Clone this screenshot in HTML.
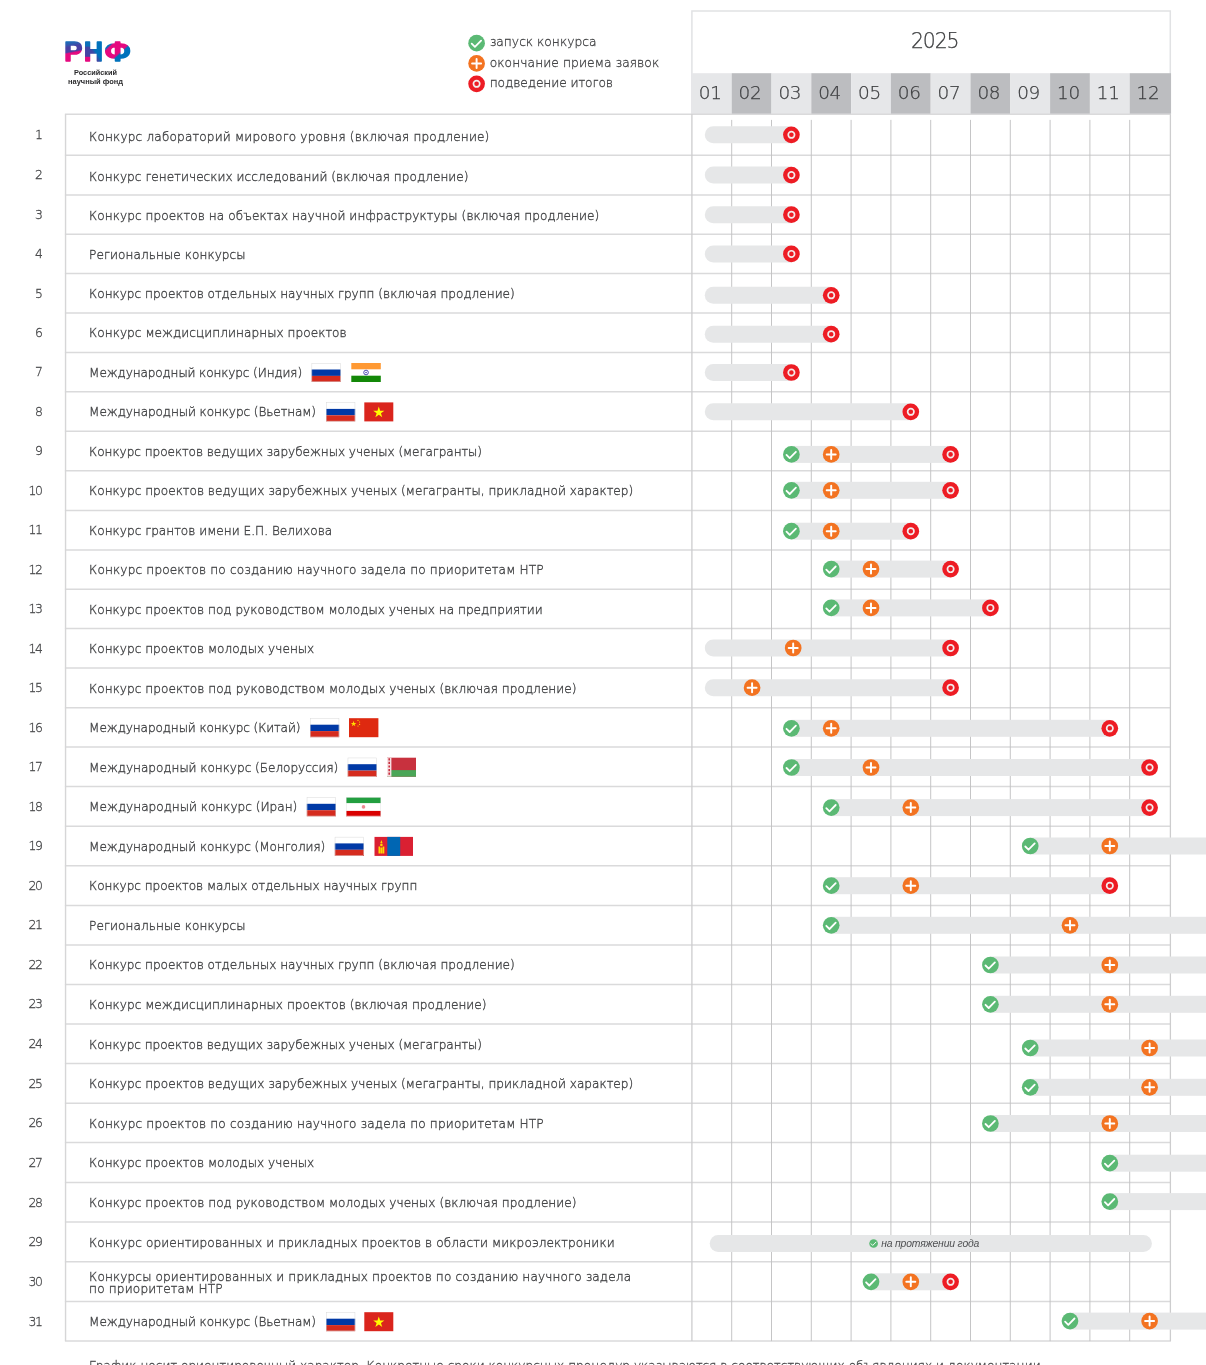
<!DOCTYPE html>
<html lang="ru"><head><meta charset="utf-8"><title>РНФ — график конкурсов 2025</title>
<style>
html,body{margin:0;padding:0;background:#fff;}
body{width:1206px;height:1365px;position:relative;overflow:hidden;font-family:"Liberation Sans",sans-serif;color:#58595b;}
.t{position:absolute;white-space:nowrap;font-family:"DejaVu Sans Light","DejaVu Sans","Liberation Sans",sans-serif;font-weight:200;font-size:12.1px;line-height:14px;height:14px;left:89.1px;color:#454648;-webkit-text-stroke:0.35px #454648;}
.n{position:absolute;white-space:nowrap;font-family:"DejaVu Sans Light","DejaVu Sans","Liberation Sans",sans-serif;font-weight:200;font-size:12.4px;letter-spacing:-1.3px;line-height:14px;height:14px;width:30px;left:11.7px;text-align:right;color:#48494b;-webkit-text-stroke:0.3px #48494b;}
.m{position:absolute;top:73.0px;height:40.6px;font-family:"DejaVu Sans Light","DejaVu Sans","Liberation Sans",sans-serif;font-weight:200;font-size:18.4px;line-height:40.6px;text-align:center;color:#3f4042;-webkit-text-stroke:0.25px #3f4042;letter-spacing:-0.3px;}
.lg{position:absolute;left:489.7px;font-family:"DejaVu Sans Light","DejaVu Sans","Liberation Sans",sans-serif;font-weight:200;font-size:12.25px;line-height:16px;white-space:nowrap;color:#444547;-webkit-text-stroke:0.3px #444547;}
svg{position:absolute;left:0;top:0;}
</style></head><body>

<svg width="1206" height="1365" viewBox="0 0 1206 1365">
<defs>
<g id="ig"><circle r="8.35" fill="#5bb974"/><path d="M-4.9 0.5 L-1.7 3.7 L4.5 -2.6" fill="none" stroke="#fff" stroke-width="1.8" stroke-linecap="round" stroke-linejoin="round"/></g>
<g id="io"><circle r="8.35" fill="#f37321"/><path d="M-4.5 0H4.5M0 -4.5V4.5" fill="none" stroke="#fff" stroke-width="1.95" stroke-linecap="round"/></g>
<g id="ir"><circle r="8.35" fill="#ed1c24"/><circle r="3.15" fill="none" stroke="#f3ecec" stroke-width="1.7"/></g>
<g id="ru"><rect width="29.2" height="19" fill="#fff"/><rect y="6.5" width="29.2" height="6.4" fill="#0039a6"/><rect y="12.9" width="29.2" height="6.1" fill="#d52b1e"/><rect x="0.25" y="0.25" width="28.7" height="18.5" fill="none" stroke="#d9d9d9" stroke-width="0.5"/></g>
<linearGradient id="gP" gradientUnits="userSpaceOnUse" x1="11" y1="11" x2="15" y2="32"><stop offset="0" stop-color="#1374bd"/><stop offset="0.18" stop-color="#2e5cb0"/><stop offset="0.32" stop-color="#4a3fa3"/><stop offset="0.53" stop-color="#4a3fa3"/><stop offset="0.6" stop-color="#e5097f"/><stop offset="1" stop-color="#e5097f"/></linearGradient>
<linearGradient id="gN" gradientUnits="userSpaceOnUse" x1="30" y1="26" x2="46" y2="16"><stop offset="0" stop-color="#4a3fa3"/><stop offset="0.45" stop-color="#3f48a5"/><stop offset="0.62" stop-color="#0072bc"/><stop offset="1" stop-color="#0072bc"/></linearGradient>
<linearGradient id="gF" gradientUnits="userSpaceOnUse" x1="52" y1="10" x2="73" y2="33"><stop offset="0" stop-color="#0072bc"/><stop offset="0.17" stop-color="#0072bc"/><stop offset="0.23" stop-color="#e5097f"/><stop offset="0.56" stop-color="#e5097f"/><stop offset="0.62" stop-color="#0072bc"/><stop offset="1" stop-color="#0072bc"/></linearGradient>
</defs>
<rect x="691.90" y="10.7" width="478.50" height="103.50" fill="#fff" stroke="none"/>
<path d="M691.90 114.20V10.95H1170.30V114.20" fill="none" stroke="#e1e2e4" stroke-width="1.5" stroke-linejoin="miter"/>
<rect x="691.20" y="73.2" width="40.50" height="41.00" fill="#e6e7e9"/>
<rect x="731.70" y="73.2" width="39.80" height="41.00" fill="#bcbdc0"/>
<rect x="771.50" y="73.2" width="39.80" height="41.00" fill="#e6e7e9"/>
<rect x="811.30" y="73.2" width="39.80" height="41.00" fill="#bcbdc0"/>
<rect x="851.10" y="73.2" width="39.80" height="41.00" fill="#e6e7e9"/>
<rect x="890.90" y="73.2" width="39.80" height="41.00" fill="#bcbdc0"/>
<rect x="930.70" y="73.2" width="39.80" height="41.00" fill="#e6e7e9"/>
<rect x="970.50" y="73.2" width="39.80" height="41.00" fill="#bcbdc0"/>
<rect x="1010.30" y="73.2" width="39.80" height="41.00" fill="#e6e7e9"/>
<rect x="1050.10" y="73.2" width="39.80" height="41.00" fill="#bcbdc0"/>
<rect x="1089.90" y="73.2" width="39.80" height="41.00" fill="#e6e7e9"/>
<rect x="1129.70" y="73.2" width="41.35" height="41.00" fill="#bcbdc0"/>
<path d="M64.9 114.20H1171.00M64.9 155.30H1171.00M64.9 194.90H1171.00M64.9 234.30H1171.00M64.9 273.60H1171.00M64.9 313.10H1171.00M64.9 352.40H1171.00M64.9 391.80H1171.00M64.9 431.25H1171.00M64.9 470.80H1171.00M64.9 510.40H1171.00M64.9 549.90H1171.00M64.9 589.30H1171.00M64.9 628.60H1171.00M64.9 668.10H1171.00M64.9 707.65H1171.00M64.9 747.00H1171.00M64.9 786.60H1171.00M64.9 826.20H1171.00M64.9 865.80H1171.00M64.9 905.40H1171.00M64.9 945.00H1171.00M64.9 984.40H1171.00M64.9 1024.00H1171.00M64.9 1063.60H1171.00M64.9 1103.20H1171.00M64.9 1142.60H1171.00M64.9 1182.40H1171.00M64.9 1222.10H1171.00M64.9 1261.70H1171.00M64.9 1301.40H1171.00M64.9 1341.10H1171.00" fill="none" stroke="#dadadb" stroke-width="1.5"/>
<path d="M65.55 114.20V1341.10" fill="none" stroke="#d6d6d7" stroke-width="1.4"/>
<path d="M691.90 114.20V1341.10 M1170.40 114.20V1341.10" fill="none" stroke="#cdcdce" stroke-width="1.3"/>
<path d="M731.70 119.9V1341.10M771.50 119.9V1341.10M811.30 119.9V1341.10M851.10 119.9V1341.10M890.90 119.9V1341.10M930.70 119.9V1341.10M970.50 119.9V1341.10M1010.30 119.9V1341.10M1050.10 119.9V1341.10M1089.90 119.9V1341.10M1129.70 119.9V1341.10" fill="none" stroke="#c2c2c3" stroke-width="0.95"/>
<path d="M713.30 126.30H791.40V143.30H713.30A8.50 8.50 0 0 1 713.30 126.30Z" fill="#e6e7e8"/>
<use href="#ir" x="791.40" y="134.80"/>
<path d="M713.30 166.60H791.40V183.60H713.30A8.50 8.50 0 0 1 713.30 166.60Z" fill="#e6e7e8"/>
<use href="#ir" x="791.40" y="175.10"/>
<path d="M713.30 206.20H791.40V223.20H713.30A8.50 8.50 0 0 1 713.30 206.20Z" fill="#e6e7e8"/>
<use href="#ir" x="791.40" y="214.70"/>
<path d="M713.30 245.40H791.40V262.40H713.30A8.50 8.50 0 0 1 713.30 245.40Z" fill="#e6e7e8"/>
<use href="#ir" x="791.40" y="253.90"/>
<path d="M713.30 286.80H831.20V303.80H713.30A8.50 8.50 0 0 1 713.30 286.80Z" fill="#e6e7e8"/>
<use href="#ir" x="831.20" y="295.30"/>
<path d="M713.30 325.70H831.20V342.70H713.30A8.50 8.50 0 0 1 713.30 325.70Z" fill="#e6e7e8"/>
<use href="#ir" x="831.20" y="334.20"/>
<path d="M713.30 364.00H791.40V381.00H713.30A8.50 8.50 0 0 1 713.30 364.00Z" fill="#e6e7e8"/>
<use href="#ir" x="791.40" y="372.50"/>
<path d="M713.30 403.30H910.80V420.30H713.30A8.50 8.50 0 0 1 713.30 403.30Z" fill="#e6e7e8"/>
<use href="#ir" x="910.80" y="411.80"/>
<rect x="791.40" y="445.90" width="159.20" height="17.00" fill="#e6e7e8"/>
<use href="#ig" x="791.40" y="454.40"/>
<use href="#io" x="831.20" y="454.40"/>
<use href="#ir" x="950.60" y="454.40"/>
<rect x="791.40" y="481.80" width="159.20" height="17.00" fill="#e6e7e8"/>
<use href="#ig" x="791.40" y="490.30"/>
<use href="#io" x="831.20" y="490.30"/>
<use href="#ir" x="950.60" y="490.30"/>
<rect x="791.40" y="522.70" width="119.40" height="17.00" fill="#e6e7e8"/>
<use href="#ig" x="791.40" y="531.20"/>
<use href="#io" x="831.20" y="531.20"/>
<use href="#ir" x="910.80" y="531.20"/>
<rect x="831.20" y="560.60" width="119.40" height="17.00" fill="#e6e7e8"/>
<use href="#ig" x="831.20" y="569.10"/>
<use href="#io" x="871.00" y="569.10"/>
<use href="#ir" x="950.60" y="569.10"/>
<rect x="831.20" y="599.40" width="159.20" height="17.00" fill="#e6e7e8"/>
<use href="#ig" x="831.20" y="607.90"/>
<use href="#io" x="871.00" y="607.90"/>
<use href="#ir" x="990.40" y="607.90"/>
<path d="M713.30 639.50H950.60V656.50H713.30A8.50 8.50 0 0 1 713.30 639.50Z" fill="#e6e7e8"/>
<use href="#io" x="793.19" y="648.00"/>
<use href="#ir" x="950.60" y="648.00"/>
<path d="M713.30 679.20H950.60V696.20H713.30A8.50 8.50 0 0 1 713.30 679.20Z" fill="#e6e7e8"/>
<use href="#io" x="752.08" y="687.70"/>
<use href="#ir" x="950.60" y="687.70"/>
<rect x="791.40" y="719.80" width="318.40" height="17.00" fill="#e6e7e8"/>
<use href="#ig" x="791.40" y="728.30"/>
<use href="#io" x="831.20" y="728.30"/>
<use href="#ir" x="1109.80" y="728.30"/>
<rect x="791.40" y="759.00" width="358.20" height="17.00" fill="#e6e7e8"/>
<use href="#ig" x="791.40" y="767.50"/>
<use href="#io" x="871.00" y="767.50"/>
<use href="#ir" x="1149.60" y="767.50"/>
<rect x="831.20" y="799.10" width="318.40" height="17.00" fill="#e6e7e8"/>
<use href="#ig" x="831.20" y="807.60"/>
<use href="#io" x="910.80" y="807.60"/>
<use href="#ir" x="1149.60" y="807.60"/>
<rect x="1030.20" y="837.50" width="184.80" height="17.00" fill="#e6e7e8"/>
<use href="#ig" x="1030.20" y="846.00"/>
<use href="#io" x="1109.80" y="846.00"/>
<rect x="831.20" y="877.20" width="278.60" height="17.00" fill="#e6e7e8"/>
<use href="#ig" x="831.20" y="885.70"/>
<use href="#io" x="910.80" y="885.70"/>
<use href="#ir" x="1109.80" y="885.70"/>
<rect x="831.20" y="916.80" width="383.80" height="17.00" fill="#e6e7e8"/>
<use href="#ig" x="831.20" y="925.30"/>
<use href="#io" x="1070.00" y="925.30"/>
<rect x="990.40" y="956.50" width="224.60" height="17.00" fill="#e6e7e8"/>
<use href="#ig" x="990.40" y="965.00"/>
<use href="#io" x="1109.80" y="965.00"/>
<rect x="990.40" y="995.80" width="224.60" height="17.00" fill="#e6e7e8"/>
<use href="#ig" x="990.40" y="1004.30"/>
<use href="#io" x="1109.80" y="1004.30"/>
<rect x="1030.20" y="1039.50" width="184.80" height="17.00" fill="#e6e7e8"/>
<use href="#ig" x="1030.20" y="1048.00"/>
<use href="#io" x="1149.60" y="1048.00"/>
<rect x="1030.20" y="1078.80" width="184.80" height="17.00" fill="#e6e7e8"/>
<use href="#ig" x="1030.20" y="1087.30"/>
<use href="#io" x="1149.60" y="1087.30"/>
<rect x="990.40" y="1115.00" width="224.60" height="17.00" fill="#e6e7e8"/>
<use href="#ig" x="990.40" y="1123.50"/>
<use href="#io" x="1109.80" y="1123.50"/>
<rect x="1109.80" y="1154.70" width="105.20" height="17.00" fill="#e6e7e8"/>
<use href="#ig" x="1109.80" y="1163.20"/>
<rect x="1109.80" y="1193.10" width="105.20" height="17.00" fill="#e6e7e8"/>
<use href="#ig" x="1109.80" y="1201.60"/>
<rect x="709.7" y="1235.00" width="442.20" height="17.00" rx="8.5" fill="#e6e7e8"/>
<use href="#ig" transform="translate(873.6 1243.50) scale(0.52)"/>
<rect x="871.00" y="1273.30" width="79.60" height="17.00" fill="#e6e7e8"/>
<use href="#ig" x="871.00" y="1281.80"/>
<use href="#io" x="910.80" y="1281.80"/>
<use href="#ir" x="950.60" y="1281.80"/>
<rect x="1070.00" y="1312.60" width="145.00" height="17.00" fill="#e6e7e8"/>
<use href="#ig" x="1070.00" y="1321.10"/>
<use href="#io" x="1149.60" y="1321.10"/>
<use href="#ru" x="311.6" y="363.0"/>
<g transform="translate(351.3 363.0)"><rect width="29.5" height="19" fill="#fff"/><rect width="29.5" height="6.3" fill="#ff9933"/><rect y="12.7" width="29.5" height="6.3" fill="#138808"/><circle cx="14.75" cy="9.5" r="2.3" fill="none" stroke="#3a3aa8" stroke-width="0.9"/><circle cx="14.75" cy="9.5" r="0.8" fill="#3a3aa8"/></g>
<use href="#ru" x="326.0" y="402.4"/>
<g transform="translate(364.3 402.4)"><rect width="29" height="19" fill="#da251d"/><path d="M14.5 4.2l1.32 4.06h4.27l-3.45 2.51 1.32 4.06-3.46-2.51-3.46 2.51 1.32-4.06-3.45-2.51h4.27z" fill="#ffff00"/></g>
<use href="#ru" x="310.0" y="718.2"/>
<g transform="translate(349.0 718.2)"><rect width="29.4" height="19" fill="#de2910"/><path d="M4.6 2.6l0.68 2.08h2.18l-1.77 1.28 0.68 2.08-1.77-1.28-1.77 1.28 0.68-2.08-1.77-1.28h2.18z" fill="#ffde00"/><circle cx="9.0" cy="2.2" r="0.6" fill="#ffde00"/><circle cx="10.6" cy="3.8" r="0.6" fill="#ffde00"/><circle cx="10.6" cy="6.2" r="0.6" fill="#ffde00"/><circle cx="9.0" cy="7.8" r="0.6" fill="#ffde00"/></g>
<use href="#ru" x="347.7" y="757.7"/>
<g transform="translate(387.0 757.7)"><rect width="29" height="19" fill="#c8313e"/><rect y="12.4" width="29" height="6.6" fill="#4aa657"/><rect width="4.4" height="19" fill="#f6dfe2"/><path d="M2.2 0.5V18.5" stroke="#c8313e" stroke-width="1.6" stroke-dasharray="2.2 1.4" fill="none"/></g>
<use href="#ru" x="306.8" y="797.3"/>
<g transform="translate(346.0 797.3)"><rect width="35" height="19" fill="#fff"/><rect width="35" height="5.8" fill="#239f40"/><rect y="13.6" width="35" height="5.4" fill="#da0000"/><circle cx="17.5" cy="9.6" r="1.8" fill="#ec8a92"/><rect x="0.25" y="0.25" width="34.5" height="18.5" fill="none" stroke="#e3e3e3" stroke-width="0.5"/></g>
<use href="#ru" x="334.8" y="836.9"/>
<g transform="translate(374.5 836.9)"><rect width="38.5" height="19" fill="#da2032"/><rect x="12.8" width="12.9" height="19" fill="#0066b3"/><path d="M4 16.5V9.5H5.6V16.5Z M8.2 16.5V9.5H9.8V16.5Z M5.9 16.5V10.5H7.9V16.5Z M6.9 3.2L8 6.2H5.8Z" fill="#ffd900"/><circle cx="6.9" cy="8" r="1.3" fill="#ffd900"/></g>
<use href="#ru" x="326.0" y="1312.2"/>
<g transform="translate(364.3 1312.2)"><rect width="29" height="19" fill="#da251d"/><path d="M14.5 4.2l1.32 4.06h4.27l-3.45 2.51 1.32 4.06-3.46-2.51-3.46 2.51 1.32-4.06-3.45-2.51h4.27z" fill="#ffff00"/></g>
<use href="#ig" x="476.6" y="43.2"/><use href="#io" x="476.6" y="63.4"/><use href="#ir" x="476.6" y="83.8"/>
<pattern id="pL" patternUnits="userSpaceOnUse" x="55" y="30" width="90" height="45"><rect x="0" y="0" width="28.3" height="45" fill="url(#gP)"/><rect x="28.3" y="0" width="20.4" height="45" fill="url(#gN)"/><rect x="28.3" y="26.8" width="9.2" height="18" fill="#e5097f"/><rect x="28.3" y="0" width="9.2" height="16.6" fill="#0b70ba"/><rect x="48.7" y="0" width="41.3" height="45" fill="url(#gF)"/></pattern>
<text font-family="'Liberation Sans',sans-serif" font-weight="bold" font-size="27" stroke-linejoin="round" stroke-width="1.5" fill="url(#pL)" stroke="url(#pL)" y="60.95"><tspan x="64.3" textLength="18.1" lengthAdjust="spacingAndGlyphs">Р</tspan><tspan x="84.1" textLength="18.9" lengthAdjust="spacingAndGlyphs">Н</tspan><tspan x="104.7" textLength="25.8" lengthAdjust="spacingAndGlyphs">Ф</tspan></text>
<g font-family="'Liberation Sans',sans-serif" font-weight="bold" font-size="7.3" fill="#2b2b2d" text-anchor="middle"><text x="95.5" y="74.9" textLength="43" lengthAdjust="spacingAndGlyphs">Российский</text><text x="95.5" y="83.6" textLength="55" lengthAdjust="spacingAndGlyphs">научный фонд</text></g>
</svg>
<div style="position:absolute;left:695.5px;width:478.5px;top:25.7px;height:30px;line-height:30px;text-align:center;font-family:'DejaVu Sans Light','DejaVu Sans','Liberation Sans',sans-serif;font-weight:200;font-size:20.4px;letter-spacing:-1.1px;color:#3f4042;-webkit-text-stroke:0.25px #3f4042;" id="yr">2025</div>
<div class="m" style="left:690.30px;width:39.80px;">01</div>
<div class="m" style="left:730.10px;width:39.80px;">02</div>
<div class="m" style="left:769.90px;width:39.80px;">03</div>
<div class="m" style="left:809.70px;width:39.80px;">04</div>
<div class="m" style="left:849.50px;width:39.80px;">05</div>
<div class="m" style="left:889.30px;width:39.80px;">06</div>
<div class="m" style="left:929.10px;width:39.80px;">07</div>
<div class="m" style="left:968.90px;width:39.80px;">08</div>
<div class="m" style="left:1008.70px;width:39.80px;">09</div>
<div class="m" style="left:1048.50px;width:39.80px;">10</div>
<div class="m" style="left:1088.30px;width:39.80px;">11</div>
<div class="m" style="left:1128.10px;width:39.80px;">12</div>
<div class="lg" id="lg0" style="top:34.0px;letter-spacing:0.013px;">запуск конкурса</div>
<div class="lg" id="lg1" style="top:54.5px;letter-spacing:0.074px;">окончание приема заявок</div>
<div class="lg" id="lg2" style="top:74.6px;letter-spacing:-0.097px;">подведение итогов</div>
<div class="n" style="top:128.0px;">1</div>
<div class="t" id="t0" style="top:129.5px;letter-spacing:0.171px;">Конкурс лабораторий мирового уровня (включая продление)</div>
<div class="n" style="top:168.3px;">2</div>
<div class="t" id="t1" style="top:169.5px;letter-spacing:0.040px;">Конкурс генетических исследований (включая продление)</div>
<div class="n" style="top:207.8px;">3</div>
<div class="t" id="t2" style="top:208.5px;letter-spacing:0.070px;">Конкурс проектов на объектах научной инфраструктуры (включая продление)</div>
<div class="n" style="top:247.2px;">4</div>
<div class="t" id="t3" style="top:247.7px;letter-spacing:0.072px;">Региональные конкурсы</div>
<div class="n" style="top:286.6px;">5</div>
<div class="t" id="t4" style="top:287.1px;letter-spacing:-0.004px;">Конкурс проектов отдельных научных групп (включая продление)</div>
<div class="n" style="top:325.9px;">6</div>
<div class="t" id="t5" style="top:326.4px;letter-spacing:0.047px;">Конкурс междисциплинарных проектов</div>
<div class="n" style="top:365.3px;">7</div>
<div class="t" id="t6" style="top:365.8px;letter-spacing:-0.126px;">Международный конкурс (Индия)</div>
<div class="n" style="top:404.7px;">8</div>
<div class="t" id="t7" style="top:405.2px;letter-spacing:-0.092px;">Международный конкурс (Вьетнам)</div>
<div class="n" style="top:444.2px;">9</div>
<div class="t" id="t8" style="top:444.7px;letter-spacing:-0.049px;">Конкурс проектов ведущих зарубежных ученых (мегагранты)</div>
<div class="n" style="top:483.8px;">10</div>
<div class="t" id="t9" style="top:484.3px;letter-spacing:0.014px;">Конкурс проектов ведущих зарубежных ученых (мегагранты, прикладной характер)</div>
<div class="n" style="top:523.4px;">11</div>
<div class="t" id="t10" style="top:523.9px;letter-spacing:0.017px;">Конкурс грантов имени Е.П. Велихова</div>
<div class="n" style="top:562.8px;">12</div>
<div class="t" id="t11" style="top:563.3px;letter-spacing:0.157px;">Конкурс проектов по созданию научного задела по приоритетам НТР</div>
<div class="n" style="top:602.2px;">13</div>
<div class="t" id="t12" style="top:602.7px;letter-spacing:0.020px;">Конкурс проектов под руководством молодых ученых на предприятии</div>
<div class="n" style="top:641.6px;">14</div>
<div class="t" id="t13" style="top:642.1px;letter-spacing:0.016px;">Конкурс проектов молодых ученых</div>
<div class="n" style="top:681.1px;">15</div>
<div class="t" id="t14" style="top:681.6px;letter-spacing:0.033px;">Конкурс проектов под руководством молодых ученых (включая продление)</div>
<div class="n" style="top:720.5px;">16</div>
<div class="t" id="t15" style="top:721.0px;letter-spacing:-0.104px;">Международный конкурс (Китай)</div>
<div class="n" style="top:760.0px;">17</div>
<div class="t" id="t16" style="top:760.5px;letter-spacing:-0.036px;">Международный конкурс (Белоруссия)</div>
<div class="n" style="top:799.6px;">18</div>
<div class="t" id="t17" style="top:800.1px;letter-spacing:-0.005px;">Международный конкурс (Иран)</div>
<div class="n" style="top:839.2px;">19</div>
<div class="t" id="t18" style="top:839.7px;letter-spacing:-0.061px;">Международный конкурс (Монголия)</div>
<div class="n" style="top:878.8px;">20</div>
<div class="t" id="t19" style="top:879.3px;letter-spacing:-0.042px;">Конкурс проектов малых отдельных научных групп</div>
<div class="n" style="top:918.4px;">21</div>
<div class="t" id="t20" style="top:918.9px;letter-spacing:0.072px;">Региональные конкурсы</div>
<div class="n" style="top:957.9px;">22</div>
<div class="t" id="t21" style="top:958.4px;letter-spacing:-0.004px;">Конкурс проектов отдельных научных групп (включая продление)</div>
<div class="n" style="top:997.4px;">23</div>
<div class="t" id="t22" style="top:997.9px;letter-spacing:0.020px;">Конкурс междисциплинарных проектов (включая продление)</div>
<div class="n" style="top:1037.0px;">24</div>
<div class="t" id="t23" style="top:1037.5px;letter-spacing:-0.049px;">Конкурс проектов ведущих зарубежных ученых (мегагранты)</div>
<div class="n" style="top:1076.6px;">25</div>
<div class="t" id="t24" style="top:1077.1px;letter-spacing:0.014px;">Конкурс проектов ведущих зарубежных ученых (мегагранты, прикладной характер)</div>
<div class="n" style="top:1116.1px;">26</div>
<div class="t" id="t25" style="top:1116.6px;letter-spacing:0.157px;">Конкурс проектов по созданию научного задела по приоритетам НТР</div>
<div class="n" style="top:1155.7px;">27</div>
<div class="t" id="t26" style="top:1156.2px;letter-spacing:0.016px;">Конкурс проектов молодых ученых</div>
<div class="n" style="top:1195.5px;">28</div>
<div class="t" id="t27" style="top:1196.0px;letter-spacing:0.033px;">Конкурс проектов под руководством молодых ученых (включая продление)</div>
<div class="n" style="top:1235.1px;">29</div>
<div class="t" id="t28" style="top:1235.6px;letter-spacing:0.103px;">Конкурс ориентированных и прикладных проектов в области микроэлектроники</div>
<div class="n" style="top:1274.8px;">30</div>
<div class="t" id="t29_0" style="top:1269.8px;letter-spacing:0.134px;">Конкурсы ориентированных и прикладных проектов по созданию научного задела</div>
<div class="t" id="t29_1" style="top:1282.2px;letter-spacing:0.171px;">по приоритетам НТР</div>
<div class="n" style="top:1314.5px;">31</div>
<div class="t" id="t30" style="top:1315.0px;letter-spacing:-0.092px;">Международный конкурс (Вьетнам)</div>
<div id="yrl" style="position:absolute;left:881.2px;top:1237.9px;font-size:10.4px;line-height:12px;font-style:italic;white-space:nowrap;color:#4f5052;letter-spacing:-0.175px;">на протяжении года</div>
<div id="ft" style="font-family:'DejaVu Sans Light','DejaVu Sans','Liberation Sans',sans-serif;font-weight:200;color:#4a4b4d;-webkit-text-stroke:0.3px #4a4b4d;position:absolute;left:89.1px;top:1358.5px;font-size:12.1px;line-height:14px;white-space:nowrap;letter-spacing:0.025px;">График носит ориентировочный характер. Конкретные сроки конкурсных процедур указываются в соответствующих объявлениях и документации.</div>
</body></html>
